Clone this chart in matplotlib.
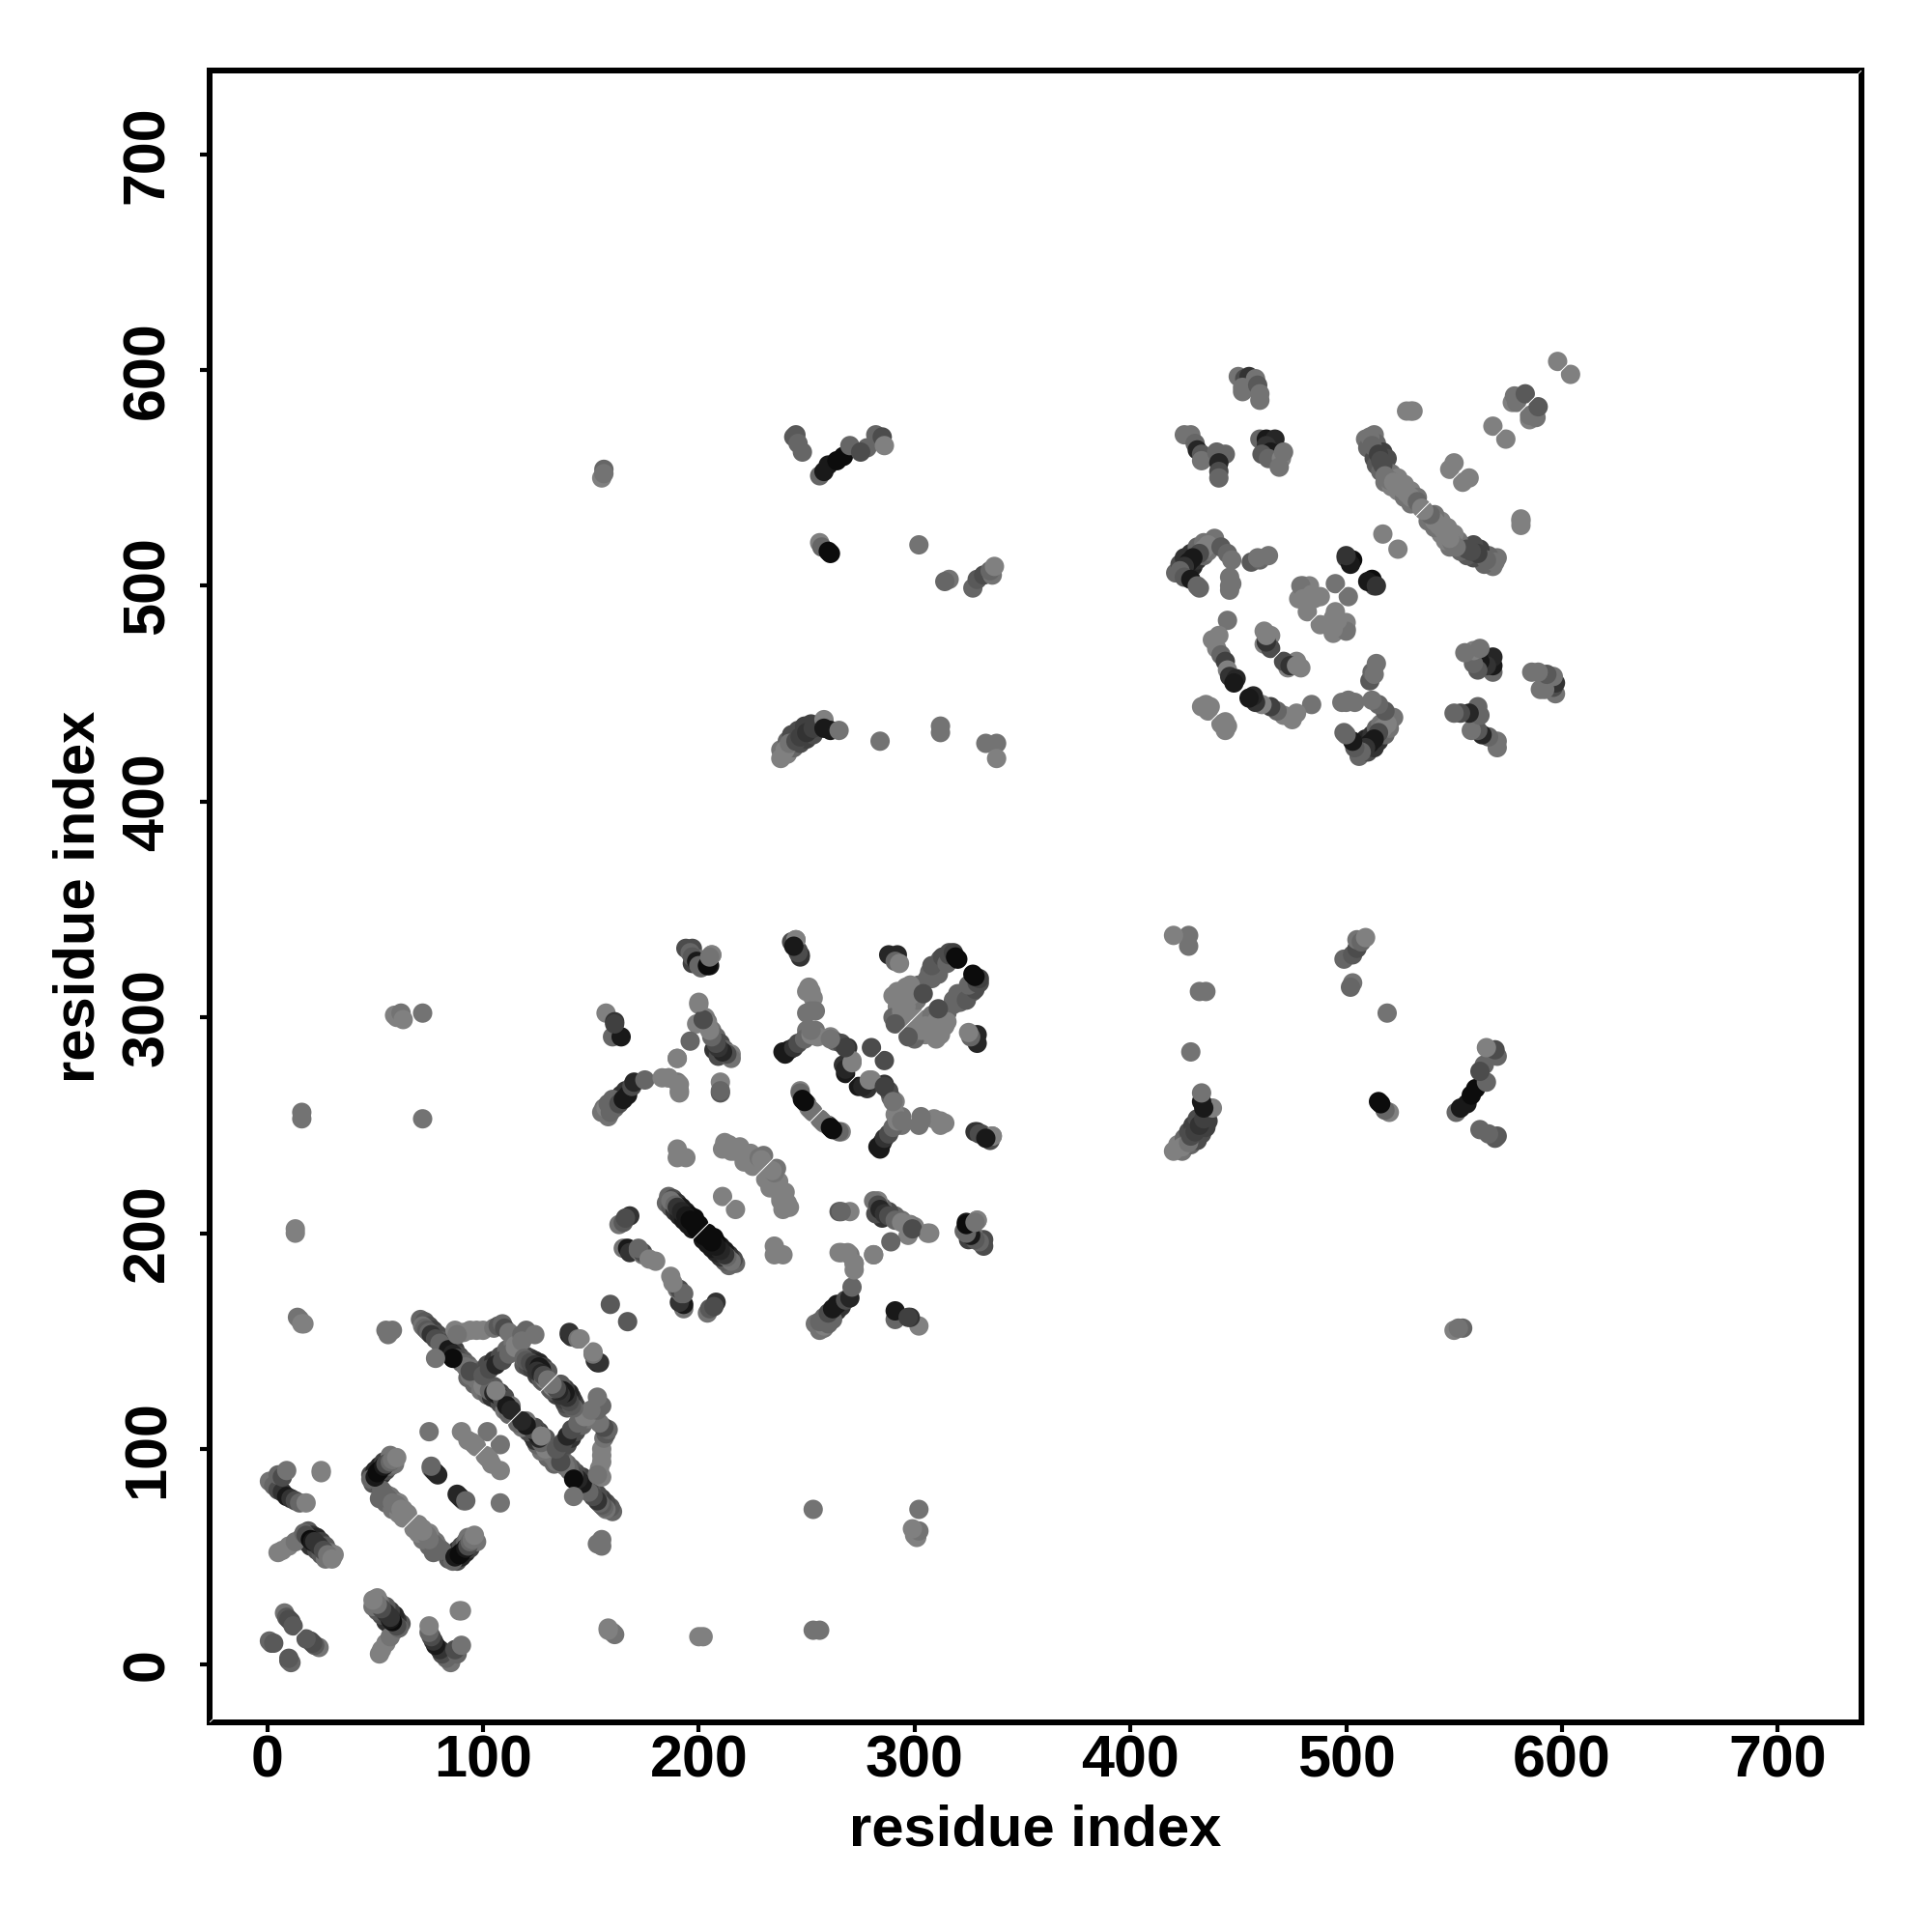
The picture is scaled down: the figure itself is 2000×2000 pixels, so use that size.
import matplotlib
matplotlib.use('Agg')
import matplotlib.pyplot as plt

# contacts as (residue i, residue j, score), i < j, score is the grey level of the dot
block_wide_strands = [
    (71,160,.4),(73,159,.35),(75,157,.3),(77,155,.25),(79,153,.3),(81,150,.35),(83,149,.3),(85,147,.2),(87,146,.25),
    (89,143,.3),(91,141,.35),(93,139,.4),(95,137,.45),(93,133,.4),(96,130,.4),(99,127,.45),(102,125,.4),(104,124,.2),
    (106,123,.2),(108,121,.3),(110,118,.45),(112,116,.4),(105,129,.35),(108,126,.25),(110,124,.3),(113,120,.45),
    (118,144,.35),(120,143,.3),(122,142,.25),(124,141,.2),(126,140,.15),(128,138,.25),(130,136,.35),(126,135,.3),(128,131,.4),
    (119,139,.35),(121,138,.3),(123,137,.25),(125,134,.25),(127,132,.35),
    (99,136,.35),(102,139,.3),(105,141,.2),(108,143,.3),(111,146,.4),(114,149,.45),(117,152,.4),(120,155,.4),
    (49,84,.35),(51,85,.2),(53,88,.2),(55,90,.3),(57,92,.4),(59,93,.45),(48,88,.3),(50,90,.15),(52,92,.15),(54,94,.25),(57,97,.45),
    (53,81,.4),(55,79,.4),(57,78,.45),(59,76,.45),(61,75,.5),(63,72,.5),(65,70,.5),(52,77,.4),(55,75,.4),(58,72,.45),(61,70,.5),(63,68,.5),
    (16,59,.4),(18,57,.3),(20,55,.2),(23,53,.3),(25,51,.35),(27,49,.45),(19,62,.35),(21,60,.2),(23,59,.15),(25,57,.25),(27,55,.35),(29,52,.45),(31,51,.5),
    (185,214,.4),(187,212,.35),(189,210,.2),(191,208,.15),(193,206,.1),(195,204,.1),(197,202,.1),
    (186,217,.4),(188,216,.3),(190,214,.2),(192,212,.1),(194,210,.1),(196,208,.05),(198,207,.05),(200,204,.05),
    (509,568,.45),(510,564,.4),(513,559,.3),(514,556,.35),(516,553,.4),(518,548,.45),(521,546,.5),(524,544,.5),(527,541,.45),(530,538,.45),
    (513,570,.45),(514,566,.4),(517,562,.25),(519,559,.3),(521,552,.45),(524,550,.5),(527,547,.5),(530,544,.5),(533,541,.45),
    (253,309,.5),(251,314,.5),(250,312,.5),(254,303,.45),(250,302,.45),(250,294,.45),(254,294,.45),
    (290,310,.5),(292,305,.5),(294,309,.5),(297,309,.5),(296,314,.5),(300,313,.45),(300,309,.45),(302,315,.4),
    (290,300,.4),(292,298,.45),(294,300,.5),(297,303,.5),(299,305,.5),(301,308,.45),(306,318,.4),(308,318,.4),(311,320,.4),
    (156,258,.45),(158,258,.4),(155,256,.45),(158,254,.45),(161,258,.4),(162,262,.3),(164,264,.2),(166,266,.2),
    (421,506,.4),(423,510,.3),(425,513,.2),(428,515,.2),(431,518,.4),(434,520,.45),(427,506,.2),(429,509,.15),(431,512,.2),(434,514,.4),(436,516,.45),
    (238,424,.45),(241,428,.4),(243,431,.3),(246,433,.3),(249,435,.25),(252,436,.25),(241,422,.5),(244,425,.4),(247,427,.3),(250,429,.25),(253,431,.3),
    (190,235,.5),(221,233,.5),(226,232,.5),(214,241,.5),(219,240,.5),(224,237,.5),(230,236,.45),
]
block_n_term = [
    (2,10,.3),(1,11,.4),(3,10,.35),(8,24,.45),(9,22,.35),(10,21,.3),(11,20,.3),(12,18,.35),
    (15,160,.45),(14,161,.45),(16,158,.5),(17,158,.5),(13,200,.5),(13,202,.5),(16,253,.45),(16,256,.45),
    (1,85,.45),(3,83,.4),(5,81,.3),(7,80,.2),(5,88,.4),(7,87,.3),(9,90,.45),(9,78,.1),(11,77,.2),(13,76,.3),
    (15,75,.4),(18,75,.5),(25,89,.5),(25,90,.5),
    (5,52,.5),(7,53,.5),(10,55,.5),(13,57,.45),(17,61,.4),(18,60,.3),(20,58,.05),(21,57,.1),(22,57,.2),
    (24,55,.2),(26,53,.3),(28,51,.45),(30,49,.5),
    (48,86,.4),(50,87,.1),(51,89,.05),(52,90,.05),(54,92,.1),(55,93,.3),(57,94,.4),(58,95,.45),(60,96,.5),
    (54,79,.4),(56,77,.4),(58,75,.45),(60,74,.45),(62,72,.5),(64,69,.5),(65,68,.5),
    (55,155,.45),(56,153,.45),(58,155,.45),(56,154,.45),
    (60,300,.5),(59,301,.5),(62,302,.45),(63,299,.5),(72,253,.45),(72,302,.45),
]
block_hairpin_1 = [
    (72,157,.45),(73,156,.4),(74,155,.35),(75,154,.4),(76,153,.2),(78,151,.3),(80,149,.4),(82,147,.4),
    (84,146,.1),(86,144,.15),(88,142,.3),(90,140,.4),(92,138,.45),(94,134,.45),(97,132,.45),
    (100,129,.5),(103,127,.4),(105,126,.15),(107,125,.1),(109,123,.3),(112,119,.5),
    (111,120,.1),(113,118,.15),(86,142,.05),(94,136,.3),(106,127,.5),
    (78,142,.45),(75,108,.45),(90,108,.5),(102,108,.45),(95,103,.5),(96,102,.5),(93,104,.5),(97,101,.5),
    (76,91,.45),(77,90,.2),(78,89,.15),(79,88,.15),(76,92,.4),
    (87,155,.5),(91,154,.5),(94,155,.5),(97,155,.5),(100,155,.5),(105,156,.45),(107,157,.35),(109,158,.4),
    (110,156,.3),(112,154,.45),(114,151,.45),(115,148,.5),
    (118,153,.4),(121,153,.4),(124,153,.45),(88,153,.45),
    (100,134,.35),(103,137,.3),(106,139,.15),(109,141,.3),(112,144,.4),(115,147,.5),(118,150,.45),
]
block_hairpin_2 = [
    (119,142,.4),(120,141,.35),(122,140,.3),(124,139,.2),(126,138,.1),(127,137,.1),(125,136,.2),(127,135,.15),
    (128,133,.4),(129,132,.5),(128,134,.3),(130,132,.45),
    (140,153,.1),(141,152,.2),(140,154,.2),(144,151,.45),(145,151,.5),
    (159,167,.35),
]
block_mid_a = [
    (157,302,.5),(161,298,.2),(160,291,.4),(164,291,.1),(161,297,.25),
    (156,256,.45),(157,258,.5),(158,260,.4),(159,256,.4),(160,262,.4),(163,260,.3),(165,262,.1),(167,264,.1),
    (169,268,.3),(170,270,.15),(175,271,.4),
    (183,272,.5),(186,272,.5),(190,270,.45),(191,266,.5),(210,265,.35),(210,270,.5),
    (163,204,.45),(165,205,.35),(168,208,.2),(166,207,.3),
    (187,215,.45),(189,213,.4),(190,212,.2),(192,210,.15),(194,208,.1),(196,206,.05),(198,204,.05),(199,202,.05),
    (165,193,.45),(167,193,.1),(168,191,.2),(172,192,.4),(174,190,.45),(174,191,.3),(172,193,.4),(177,188,.5),
    (180,187,.5),(190,239,.5),(194,235,.5),(211,217,.5),
    (212,242,.5),(211,239,.5),(215,238,.5),(217,238,.5),(222,236,.5),(225,235,.5),(225,231,.5),(228,235,.45),(229,234,.5),
    (191,265,.5),(191,269,.5),(186,272,.5),(190,281,.5),(210,266,.4),
]
block_mid_b = [
    (200,306,.5),(199,297,.5),(203,300,.5),(204,298,.45),(206,294,.45),(208,291,.4),(210,288,.3),(212,285,.4),
    (196,289,.4),(190,281,.5),(207,285,.2),(209,282,.3),(215,283,.5),
    (215,281,.45),(213,283,.3),(211,284,.15),(209,286,.2),(208,288,.3),(206,291,.4),(205,294,.5),(204,297,.5),
    (202,299,.3),(200,307,.5),
    (205,324,.1),(206,329,.5),(197,332,.3),(197,325,.25),(201,323,.4),(200,327,.45),
    (194,332,.3),(196,330,.4),(197,328,.35),(199,326,.1),(200,324,.4),(204,324,.05),(206,329,.5),(205,328,.45),
    (243,335,.3),(245,336,.45),(247,329,.2),(246,331,.3),
    (245,336,.5),(247,328,.2),(246,330,.3),(244,333,.1),
    (247,266,.5),(247,265,.4),(248,262,.05),(250,260,.3),(251,258,.5),(253,256,.45),(252,257,.45),(249,261,.05),
    (239,284,.1),(240,283,.1),(242,285,.1),(244,286,.2),(246,288,.3),(249,290,.4),(252,292,.5),
    (255,291,.5),(261,291,.5),(263,289,.4),(266,288,.3),(269,286,.2),(271,280,.5),(268,274,.1),(267,278,.2),
    (268,276,.15),(271,279,.5),(268,286,.25),(280,286,.3),(261,290,.45),
    (252,312,.5),(252,303,.45),(252,294,.45),
    (288,329,.15),(292,329,.15),(291,326,.4),(293,325,.5),
    (292,312,.5),(298,315,.5),(295,307,.5),(294,303,.5),(296,305,.5),(291,297,.35),(293,307,.5),(296,311,.5),
    (298,310,.5),(304,311,.3),(307,321,.4),(310,322,.4),(308,324,.35),(312,327,.35),(313,328,.3),(315,325,.4),
    (316,330,.3),(316,329,.3),(318,330,.25),(320,327,.05),(319,328,.05),
]
block_long_range = [
    (155,550,.5),(156,554,.4),(156,552,.45),
    (244,569,.35),(245,570,.35),(246,566,.4),(248,562,.4),(256,551,.4),(258,553,.1),(260,556,.1),(264,558,.05),
    (267,560,.05),(270,565,.4),(278,564,.4),(275,562,.3),(282,570,.4),(285,569,.3),(286,565,.5),
    (256,520,.5),(257,518,.4),(260,516,.05),(261,515,.05),(302,519,.45),(316,503,.45),(314,502,.4),
    (327,499,.4),(329,503,.35),(332,505,.3),(336,505,.45),(335,507,.4),(337,509,.5),
    (238,420,.5),(240,424,.5),(242,427,.45),(245,428,.3),(247,430,.25),(250,432,.2),(253,434,.25),(258,438,.5),
    (258,434,.1),(261,433,.1),(265,433,.45),(284,428,.45),(312,435,.45),(312,432,.45),(333,427,.45),
    (338,427,.45),(338,420,.5),
]
block_c_term = [
    (425,570,.45),(428,570,.45),(430,566,.4),(431,563,.15),(433,561,.35),(433,558,.45),(440,562,.4),(444,561,.4),
    (441,557,.15),(441,553,.3),(441,550,.4),
    (450,597,.45),(453,596,.3),(455,597,.2),(458,596,.45),(452,592,.45),(452,590,.45),(459,593,.35),(460,586,.45),(460,589,.45),
    (460,568,.4),(463,568,.1),(467,568,.15),(463,565,.2),(465,562,.1),(461,561,.35),(464,559,.4),(470,559,.5),(469,555,.45),(471,562,.45),
    (439,522,.45),(436,519,.5),(434,517,.5),(432,515,.3),(429,513,.1),(427,511,.1),(425,509,.2),(423,507,.4),(425,504,.35),
    (428,503,.1),(431,500,.4),(432,499,.4),(442,518,.35),(445,515,.4),(447,512,.45),(446,504,.45),(446,500,.45),
    (456,511,.35),(460,512,.4),(464,514,.45),(459,513,.45),(447,501,.45),(446,498,.45),
    (445,484,.45),(441,477,.5),(438,475,.5),(440,471,.5),(442,468,.4),(444,465,.25),(445,461,.5),(446,458,.2),(449,457,.15),(448,455,.1),
    (433,444,.5),(437,444,.5),(435,445,.5),(436,442,.5),
    (462,479,.5),(465,477,.5),(462,473,.5),(465,471,.3),(463,474,.2),(463,477,.5),
    (480,500,.45),(483,500,.5),(478,494,.5),(488,495,.5),(482,488,.5),(485,494,.5),(481,497,.5),(479,500,.45),(484,496,.5),(480,494,.5),
    (495,501,.45),(500,513,.25),(503,512,.05),(502,510,.1),(500,514,.2),
    (511,569,.45),(512,565,.4),(515,561,.25),(516,558,.3),(517,556,.3),(518,551,.45),(520,549,.45),(522,548,.5),(524,547,.5),
    (526,545,.5),(528,543,.5),(530,541,.5),(533,539,.4),(535,536,.5),
    (517,524,.5),(530,581,.5),(528,581,.5),(531,581,.5),(548,554,.5),(550,557,.5),(568,574,.5),
    (577,585,.5),(579,585,.45),(578,588,.45),(583,589,.35),(598,604,.5),
]

blocks = [block_wide_strands, block_n_term, block_hairpin_1, block_hairpin_2, block_mid_a, block_mid_b, block_long_range, block_c_term]
ticks = [0, 100, 200, 300, 400, 500, 600, 700]

plt.rcParams['font.family'] = ['Liberation Sans', 'DejaVu Sans']
plt.rcParams['font.weight'] = 'bold'

fig = plt.figure(figsize=(10, 10))
ax = fig.add_axes([0.1084, 0.1084, 0.8553, 0.8553])

# map is symmetric, every contact is drawn on both sides of the diagonal
x, y, c = [], [], []
for block in blocks:
    for i, j, score in block:
        x += [i, j]
        y += [j, i]
        c += [score, score]

ax.scatter(x, y, c=c, cmap='gray', vmin=0, vmax=1, s=52, linewidths=0, zorder=2)
ax.plot([-30, 745], [-30, 745], color='white', lw=0.35, zorder=3)

ax.set_xlim(-26.8, 739)
ax.set_ylim(-26.8, 739)
ax.set_xticks(ticks)
ax.set_yticks(ticks)
ax.tick_params(length=3.5, width=1.5, labelsize=22)
ax.tick_params(axis='x', pad=1.0)
ax.tick_params(axis='y', pad=8.9)
for lab in ax.get_yticklabels():
    lab.set_rotation(90)
    lab.set_va('center')
for side in ax.spines.values():
    side.set_linewidth(2.16)
ax.set_xlabel('residue index', fontsize=21.5, fontweight='bold', labelpad=5.2)
ax.set_ylabel('residue index', fontsize=21.5, fontweight='bold', labelpad=5.7)

fig.savefig('out.png', dpi=200)
